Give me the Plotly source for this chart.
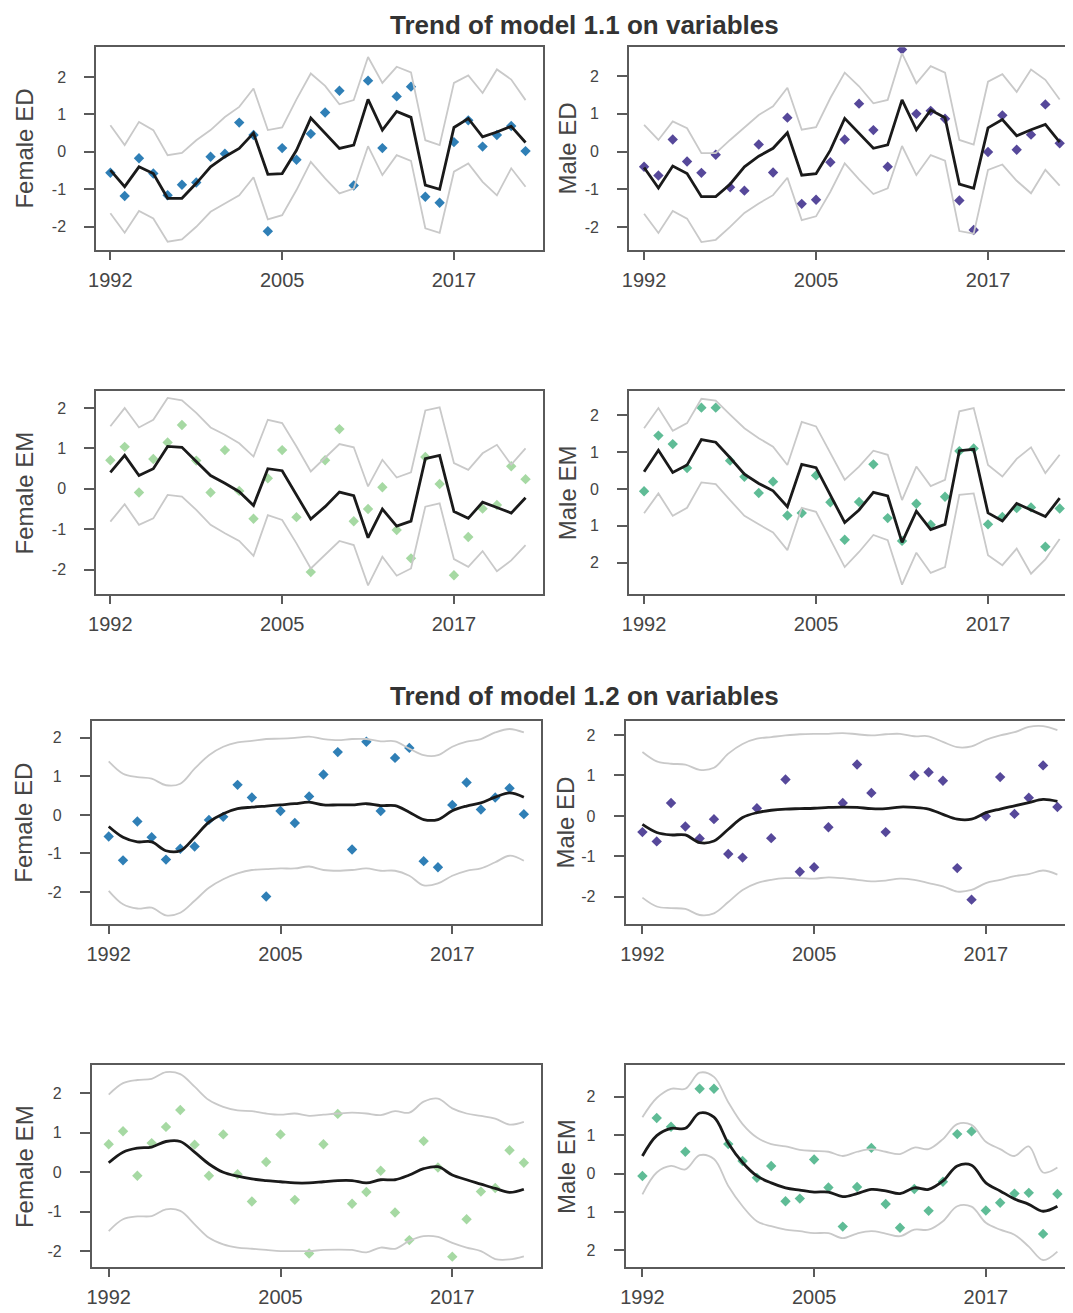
import plotly.graph_objs as go

# x positions (observation index) and the three labelled ticks
obs = list(range(30))
tick_pos = [0, 12, 24]
tick_lab = ['1992', '2005', '2017']

# observed values
female_ed = [-0.56, -1.18, -0.17, -0.58, -1.16, -0.88, -0.82, -0.13, -0.05, 0.78, 0.45, -2.12, 0.10, -0.21, 0.48,
             1.05, 1.63, -0.90, 1.90, 0.10, 1.48, 1.74, -1.20, -1.36, 0.26, 0.84, 0.14, 0.45, 0.69, 0.02]
male_ed = [-0.40, -0.63, 0.32, -0.26, -0.56, -0.08, -0.94, -1.03, 0.19, -0.55, 0.90, -1.38, -1.27, -0.28, 0.32,
           1.27, 0.57, -0.40, 2.70, 1.00, 1.08, 0.87, -1.29, -2.07, -0.01, 0.96, 0.05, 0.45, 1.25, 0.22]
female_em = [0.71, 1.04, -0.09, 0.74, 1.15, 1.58, 0.70, -0.09, 0.96, -0.05, -0.74, 0.26, 0.96, -0.70, -2.06,
             0.71, 1.48, -0.80, -0.50, 0.04, -1.02, -1.72, 0.79, 0.12, -2.14, -1.19, -0.49, -0.40, 0.56, 0.24]
male_em = [-0.06, 1.45, 1.22, 0.57, 2.21, 2.21, 0.77, 0.33, -0.11, 0.20, -0.72, -0.65, 0.37, -0.36, -1.38,
           -0.35, 0.67, -0.79, -1.41, -0.40, -0.97, -0.21, 1.03, 1.10, -0.96, -0.76, -0.52, -0.50, -1.57, -0.53]

# model 1.1 trends and bands
fed11 = [-0.49, -0.93, -0.40, -0.58, -1.24, -1.24, -0.84, -0.40, -0.13, 0.09, 0.50, -0.60, -0.58, 0.04, 0.90,
         0.49, 0.09, 0.18, 1.40, 0.58, 1.08, 0.92, -0.89, -1.00, 0.65, 0.89, 0.40, 0.53, 0.68, 0.25]
fed11_hi = [0.71, 0.18, 0.80, 0.58, -0.09, -0.03, 0.31, 0.58, 0.93, 1.20, 1.69, 0.58, 0.65, 1.40, 2.09,
            1.76, 1.27, 1.38, 2.53, 1.84, 2.27, 2.12, 0.31, 0.18, 1.84, 2.04, 1.57, 2.20, 1.93, 1.38]
fed11_lo = [-1.64, -2.16, -1.58, -1.78, -2.40, -2.34, -2.00, -1.60, -1.38, -1.16, -0.68, -1.80, -1.69, -1.02, -0.27,
            -0.71, -1.11, -0.98, 0.15, -0.62, -0.09, -0.24, -2.04, -2.16, -0.53, -0.31, -0.80, -1.16, -0.44, -0.93]

med11 = [-0.42, -0.96, -0.38, -0.58, -1.19, -1.19, -0.86, -0.40, -0.12, 0.09, 0.50, -0.62, -0.58, 0.04, 0.88,
         0.49, 0.09, 0.18, 1.37, 0.58, 1.10, 0.90, -0.86, -0.97, 0.63, 0.85, 0.42, 0.58, 0.72, 0.25]
med11_hi = [0.71, 0.31, 0.80, 0.62, -0.04, -0.04, 0.31, 0.65, 0.97, 1.20, 1.69, 0.58, 0.65, 1.42, 2.09,
            1.73, 1.28, 1.37, 2.60, 1.81, 2.26, 2.09, 0.31, 0.19, 1.85, 2.05, 1.58, 2.17, 1.90, 1.38]
med11_lo = [-1.64, -2.15, -1.57, -1.77, -2.39, -2.33, -1.99, -1.62, -1.37, -1.15, -0.69, -1.81, -1.71, -1.06, -0.31,
            -0.73, -1.12, -0.97, 0.15, -0.62, -0.09, -0.24, -2.10, -2.17, -0.48, -0.34, -0.77, -1.10, -0.48, -0.90]

fem11 = [0.41, 0.83, 0.33, 0.50, 1.05, 1.03, 0.68, 0.33, 0.14, -0.07, -0.41, 0.50, 0.45, -0.15, -0.75,
         -0.44, -0.08, -0.17, -1.21, -0.50, -0.92, -0.80, 0.75, 0.83, -0.56, -0.73, -0.33, -0.46, -0.60, -0.22]
fem11_hi = [1.55, 2.00, 1.52, 1.71, 2.25, 2.19, 1.88, 1.52, 1.34, 1.13, 0.80, 1.71, 1.63, 1.05, 0.43,
            0.76, 1.11, 1.03, 0.06, 0.72, 0.28, 0.41, 1.94, 2.02, 0.64, 0.47, 0.88, 1.09, 0.60, 1.00]
fem11_lo = [-0.81, -0.38, -0.89, -0.73, -0.15, -0.19, -0.52, -0.89, -1.10, -1.29, -1.66, -0.65, -0.77, -1.35, -1.97,
            -1.64, -1.29, -1.39, -2.39, -1.68, -2.15, -1.97, -0.44, -0.36, -1.74, -1.93, -1.54, -2.04, -1.77, -1.39]

mem11 = [0.47, 1.05, 0.45, 0.65, 1.34, 1.27, 0.85, 0.40, 0.15, -0.05, -0.48, 0.67, 0.58, -0.16, -0.91,
         -0.57, -0.09, -0.19, -1.45, -0.60, -1.10, -0.96, 1.04, 1.08, -0.65, -0.87, -0.39, -0.57, -0.75, -0.25]
mem11_hi = [1.65, 2.20, 1.58, 1.79, 2.45, 2.40, 2.02, 1.65, 1.38, 1.15, 0.65, 1.82, 1.70, 0.97, 0.25,
            0.61, 1.04, 0.93, -0.30, 0.61, 0.08, 0.25, 2.11, 2.20, 0.65, 0.34, 0.82, 1.13, 0.43, 0.93]
mem11_lo = [-0.66, -0.12, -0.73, -0.51, 0.18, 0.13, -0.30, -0.73, -0.96, -1.18, -1.66, -0.51, -0.62, -1.35, -2.12,
            -1.71, -1.25, -1.39, -2.60, -1.73, -2.28, -2.12, -0.16, -0.12, -1.80, -2.07, -1.62, -2.30, -1.91, -1.36]

# model 1.2 trends and bands
fed12 = [-0.30, -0.58, -0.70, -0.70, -0.93, -0.93, -0.58, -0.19, 0.03, 0.16, 0.20, 0.23, 0.26, 0.29, 0.33,
         0.26, 0.26, 0.26, 0.29, 0.24, 0.24, 0.07, -0.12, -0.12, 0.11, 0.23, 0.31, 0.46, 0.57, 0.46]
fed12_hi = [1.39, 1.07, 0.98, 0.94, 0.77, 0.81, 1.20, 1.55, 1.77, 1.88, 1.92, 1.97, 1.98, 2.00, 2.03,
            1.97, 1.94, 1.97, 1.97, 1.91, 1.91, 1.72, 1.55, 1.55, 1.77, 1.90, 1.97, 2.14, 2.23, 2.14]
fed12_lo = [-1.97, -2.32, -2.43, -2.41, -2.61, -2.54, -2.23, -1.89, -1.67, -1.52, -1.43, -1.41, -1.39, -1.39, -1.34,
            -1.43, -1.45, -1.43, -1.39, -1.45, -1.45, -1.58, -1.83, -1.78, -1.58, -1.45, -1.39, -1.23, -1.06, -1.19]

med12 = [-0.21, -0.41, -0.47, -0.47, -0.66, -0.62, -0.33, -0.04, 0.08, 0.14, 0.17, 0.18, 0.19, 0.21, 0.22,
         0.21, 0.18, 0.18, 0.22, 0.21, 0.17, 0.04, -0.08, -0.08, 0.08, 0.17, 0.25, 0.33, 0.41, 0.36]
med12_hi = [1.58, 1.35, 1.29, 1.27, 1.14, 1.19, 1.54, 1.78, 1.91, 1.95, 1.99, 2.02, 2.03, 2.03, 2.05,
            2.02, 1.99, 2.02, 2.03, 1.97, 1.97, 1.83, 1.70, 1.72, 1.88, 1.99, 2.07, 2.20, 2.22, 2.12]
med12_lo = [-2.02, -2.24, -2.28, -2.30, -2.45, -2.41, -2.13, -1.83, -1.66, -1.58, -1.54, -1.54, -1.55, -1.52, -1.54,
            -1.58, -1.62, -1.60, -1.55, -1.58, -1.66, -1.74, -1.87, -1.83, -1.66, -1.58, -1.49, -1.44, -1.35, -1.45]

fem12 = [0.24, 0.51, 0.61, 0.64, 0.78, 0.78, 0.51, 0.21, 0.00, -0.10, -0.17, -0.21, -0.24, -0.27, -0.27,
         -0.24, -0.21, -0.21, -0.27, -0.19, -0.19, -0.07, 0.09, 0.14, -0.07, -0.19, -0.30, -0.41, -0.51, -0.43]
fem12_hi = [1.97, 2.26, 2.34, 2.37, 2.54, 2.49, 2.17, 1.83, 1.66, 1.57, 1.55, 1.49, 1.46, 1.49, 1.43,
            1.46, 1.49, 1.51, 1.49, 1.45, 1.55, 1.51, 1.79, 1.87, 1.62, 1.49, 1.43, 1.36, 1.21, 1.28]
fem12_lo = [-1.49, -1.19, -1.12, -1.11, -0.94, -0.98, -1.32, -1.66, -1.83, -1.91, -1.94, -1.97, -2.00, -2.00, -2.00,
            -1.97, -1.96, -1.97, -2.03, -1.91, -1.94, -1.74, -1.62, -1.64, -1.79, -1.91, -2.00, -2.20, -2.21, -2.13]

mem12 = [0.46, 0.99, 1.18, 1.18, 1.58, 1.47, 0.79, 0.29, -0.06, -0.24, -0.37, -0.43, -0.48, -0.48, -0.60,
         -0.52, -0.41, -0.45, -0.52, -0.37, -0.41, -0.19, 0.20, 0.22, -0.24, -0.45, -0.66, -0.80, -0.98, -0.85]
mem12_hi = [1.47, 1.97, 2.21, 2.21, 2.63, 2.52, 1.86, 1.29, 0.94, 0.77, 0.71, 0.62, 0.59, 0.57, 0.46,
            0.57, 0.64, 0.57, 0.51, 0.68, 0.64, 0.90, 1.29, 1.27, 0.83, 0.64, 0.46, 0.71, 0.03, 0.16]
mem12_lo = [-0.54, 0.03, 0.20, 0.11, 0.48, 0.38, -0.32, -0.85, -1.24, -1.37, -1.46, -1.50, -1.55, -1.55, -1.68,
            -1.56, -1.50, -1.56, -1.63, -1.46, -1.46, -1.24, -0.85, -0.86, -1.28, -1.46, -1.59, -1.90, -2.25, -2.03]

ytick_std = ['-2', '-1', '0', '1', '2']
ytick_em = ['2', '1', '0', '1', '2']   # male EM panels show the labels without minus signs

# the page body has an 8px margin, so the figure is 8px smaller and all page coords shift by 8
PAD = 8
W, H = 1073 - PAD, 1313 - PAD
FONT = 'Liberation Sans, Arial, sans-serif'
TXT = '#454545'


def px(x):
    return (x - PAD) / W


def py(y):
    return 1 - (y - PAD) / H


# panel: points, colour, trend, hi, lo, y title, y tick text, smooth, box in page px (x0,x1,y0,y1), title x, xrange, yrange
panels = [
    (female_ed, '#2f7fb6', fed11, fed11_hi, fed11_lo, 'Female ED', ytick_std, False,
     (88.8, 540, 47.3, 250), 17, [-1.0, 30.22], [-2.62, 2.79]),
    (male_ed, '#56489a', med11, med11_hi, med11_lo, 'Male ED', ytick_std, False,
     (626.7, 1073, 47.3, 250), 565, [-1.06, 29.79], [-2.6, 2.76]),
    (female_em, '#a6d9a3', fem11, fem11_hi, fem11_lo, 'Female EM', ytick_std, False,
     (88.8, 540, 390.7, 594.3), 17, [-1.0, 30.22], [-2.61, 2.43]),
    (male_em, '#5fbc96', mem11, mem11_hi, mem11_lo, 'Male EM', ytick_em, False,
     (626.7, 1073, 390.7, 594.3), 565, [-1.06, 29.79], [-2.86, 2.67]),
    (female_ed, '#2f7fb6', fed12, fed12_hi, fed12_lo, 'Female ED', ytick_std, True,
     (84.4, 538.3, 721.3, 924.3), 16, [-1.19, 30.22], [-2.84, 2.43]),
    (male_ed, '#56489a', med12, med12_hi, med12_lo, 'Male ED', ytick_std, True,
     (623.3, 1073, 721.3, 924.3), 563, [-1.18, 29.95], [-2.68, 2.34]),
    (female_em, '#a6d9a3', fem12, fem12_hi, fem12_lo, 'Female EM', ytick_std, True,
     (84.4, 538.3, 1065, 1267.3), 16, [-1.19, 30.22], [-2.41, 2.72]),
    (male_em, '#5fbc96', mem12, mem12_hi, mem12_lo, 'Male EM', ytick_em, True,
     (623.3, 1073, 1065, 1267.3), 563, [-1.18, 29.95], [-2.44, 2.83]),
]

data = []
layout = go.Layout(width=W, height=H, margin=dict(l=0, r=0, t=0, b=0),
                   paper_bgcolor='white', plot_bgcolor='white', showlegend=False,
                   font=dict(family=FONT, color=TXT))
annotations = []

for i, (pts, col, trend, hi, lo, ylab, ytxt, smooth, box, tx, xr, yr) in enumerate(panels, start=1):
    xa = 'x' if i == 1 else 'x%d' % i
    ya = 'y' if i == 1 else 'y%d' % i
    shape = 'spline' if smooth else 'linear'
    data.append(go.Scatter(x=obs, y=pts, mode='markers', xaxis=xa, yaxis=ya,
                           marker=dict(symbol='diamond', size=8, color=col)))
    for band in (hi, lo):
        data.append(go.Scatter(x=obs, y=band, mode='lines', xaxis=xa, yaxis=ya,
                               line=dict(color='#c9c9c9', width=1.8, shape=shape)))
    data.append(go.Scatter(x=obs, y=trend, mode='lines', xaxis=xa, yaxis=ya,
                           line=dict(color='#1a1a1a', width=2.8, shape=shape)))

    x0, x1, y0, y1 = box
    axis_common = dict(showgrid=False, zeroline=False, showline=True, mirror=True,
                       linecolor='#5a5a5a', linewidth=1.6, ticks='outside',
                       tickwidth=1.6, tickcolor='#5a5a5a')
    layout['xaxis' + ('' if i == 1 else str(i))] = dict(
        domain=[px(x0), min(px(x1), 1.0)], range=xr, anchor=ya,
        tickvals=tick_pos, ticktext=tick_lab, tickfont=dict(size=20, color=TXT),
        ticklen=8, ticklabelstandoff=3, **axis_common)
    layout['yaxis' + ('' if i == 1 else str(i))] = dict(
        domain=[py(y1), py(y0)], range=yr, anchor=xa,
        tickvals=[-2, -1, 0, 1, 2], ticktext=ytxt, tickfont=dict(size=16, color=TXT),
        ticklen=10, ticklabelstandoff=15, **axis_common)

    annotations.append(dict(text=ylab, textangle=-90, xref='paper', yref='paper',
                            x=px(tx), y=py((y0 + y1) / 2), showarrow=False,
                            xanchor='center', yanchor='middle', font=dict(size=24, color=TXT)))

annotations.append(dict(text='<b>Trend of model 1.1 on variables</b>', xref='paper', yref='paper',
                        x=px(582), y=1.0, showarrow=False, xanchor='center', yanchor='top',
                        font=dict(size=26, color='#333333')))
annotations.append(dict(text='<b>Trend of model 1.2 on variables</b>', xref='paper', yref='paper',
                        x=px(582), y=py(696), showarrow=False, xanchor='center', yanchor='middle',
                        font=dict(size=26, color='#333333')))

layout['annotations'] = annotations

fig = go.Figure(data=data, layout=layout)
fig.write_html('out.html')
